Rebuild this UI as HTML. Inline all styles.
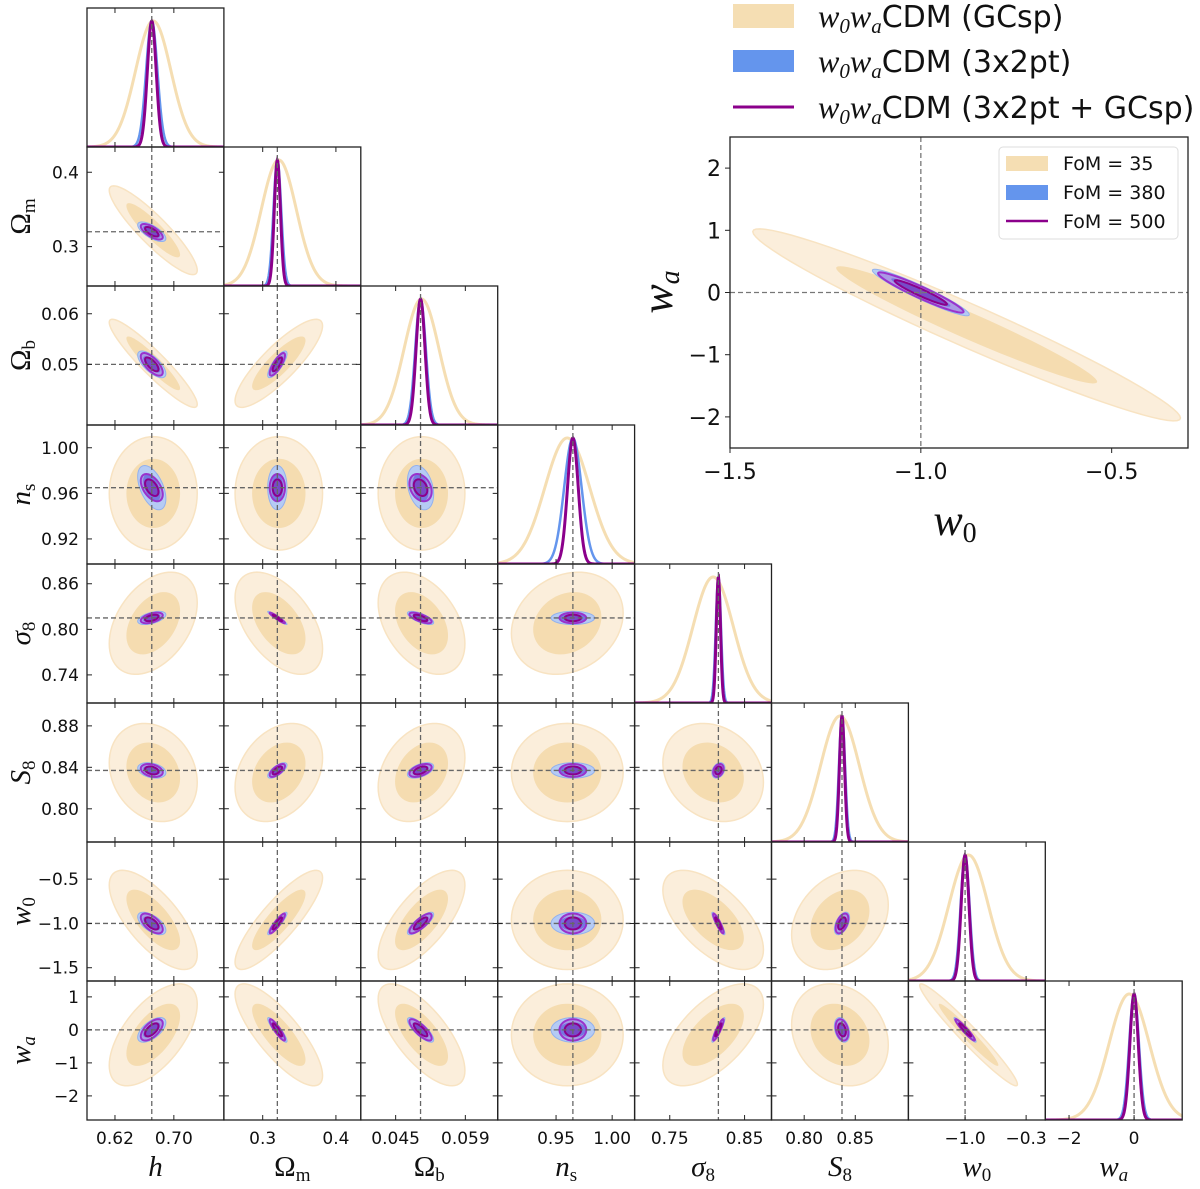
<!DOCTYPE html>
<html><head><meta charset="utf-8"><style>
html,body{margin:0;padding:0;background:#fff;}
svg{display:block;}
text{font-family:"DejaVu Sans","Liberation Sans",sans-serif;fill:#111;}
text.ttl, .ttl tspan{font-family:"Liberation Serif",serif;}
.serif{font-family:"Liberation Serif",serif;font-style:italic;}
</style></head><body>
<svg id="chart" width="1200" height="1189" viewBox="0 0 1200 1189" xmlns="http://www.w3.org/2000/svg">
<defs id="defs"></defs>
<g id="panels"></g>
<g id="legend-top">
  <rect x="733" y="4" width="61" height="24" fill="#F5DEB3"/>
  <text x="818" y="27" font-size="30"><tspan class="serif" font-size="32">w</tspan><tspan class="serif" font-size="21" dy="6">0</tspan><tspan class="serif" font-size="32" dy="-6">w</tspan><tspan class="serif" font-size="21" dy="6">a</tspan><tspan dy="-6">CDM (GCsp)</tspan></text>
  <rect x="733" y="50" width="61" height="22" fill="#6495ED"/>
  <text x="818" y="72" font-size="30"><tspan class="serif" font-size="32">w</tspan><tspan class="serif" font-size="21" dy="6">0</tspan><tspan class="serif" font-size="32" dy="-6">w</tspan><tspan class="serif" font-size="21" dy="6">a</tspan><tspan dy="-6">CDM (3x2pt)</tspan></text>
  <line x1="733" y1="107" x2="794" y2="107" stroke="#8B008B" stroke-width="3"/>
  <text x="818" y="118" font-size="30"><tspan class="serif" font-size="32">w</tspan><tspan class="serif" font-size="21" dy="6">0</tspan><tspan class="serif" font-size="32" dy="-6">w</tspan><tspan class="serif" font-size="21" dy="6">a</tspan><tspan dy="-6">CDM (3x2pt + GCsp)</tspan></text>
</g>
<g id="big"></g>
</svg>
<script>
const params=['h','Om','Ob','ns','s8','S8','w0','wa'];
const fid=[0.67,0.32,0.05,0.965,0.815,0.837,-1.0,0.0];
const lo=[0.582,0.247,0.038,0.898,0.703,0.768,-1.65,-2.73];
const hi=[0.768,0.434,0.0655,1.020,0.886,0.902,-0.08,1.48];
const meanG=[0.672,0.322,0.0502,0.960,0.808,0.835,-0.96,-0.15];
const sigG=[0.024,0.024,0.0035,0.02,0.027,0.019,0.225,0.62];
const sig3=[0.0077,0.0053,0.00106,0.0078,0.0035,0.003,0.051,0.15];
const sigC=[0.006,0.0042,0.0009,0.0048,0.0028,0.0025,0.045,0.13];
// pair correlations, order (0,1),(0,2)...(0,7),(1,2)...(6,7)
const rhoG=[-0.9,-0.93,0.0,0.4,-0.2,-0.7,0.6, 0.85,0.0,-0.5,0.3,0.85,-0.8, 0.0,-0.4,0.3,0.7,-0.7, 0.2,0.0,0.0,0.0, -0.2,-0.6,0.6, 0.3,-0.2, -0.97];
const rho3=[-0.7,-0.7,-0.5,0.5,-0.3,-0.6,0.6, 0.8,0.0,-0.95,0.7,0.9,-0.9, -0.3,-0.7,0.5,0.8,-0.8, 0.0,0.0,0.0,0.0, 0.3,-0.9,0.9, 0.5,-0.3, -0.95];
const yTicks=[[],[0.3,0.4],[0.05,0.06],[0.92,0.96,1.00],[0.74,0.80,0.86],[0.80,0.84,0.88],[-1.5,-1.0,-0.5],[-2,-1,0,1]];
const yTickLabels=[[],['0.3','0.4'],['0.05','0.06'],['0.92','0.96','1.00'],['0.74','0.80','0.86'],['0.80','0.84','0.88'],['\u22121.5','\u22121.0','\u22120.5'],['\u22122','\u22121','0','1']];
const xTicks=[[0.62,0.70],[0.3,0.4],[0.045,0.059],[0.95,1.00],[0.75,0.85],[0.80,0.85],[-1.0,-0.3],[-2,0]];
const xTickLabels=[['0.62','0.70'],['0.3','0.4'],['0.045','0.059'],['0.95','1.00'],['0.75','0.85'],['0.80','0.85'],['\u22121.0','\u22120.3'],['\u22122','0']];
const bigX=[-1.5,-0.30], bigY=[-2.5,2.5];
const bigMean=[-0.88,-0.52];
const bigXTicks=[-1.5,-1.0,-0.5], bigXTickLabels=['\u22121.5','\u22121.0','\u22120.5'];
const bigYTicks=[-2,-1,0,1,2], bigYTickLabels=['\u22122','\u22121','0','1','2'];
const fomLabels=['FoM = 35','FoM = 380','FoM = 500'];

const NS='http://www.w3.org/2000/svg';
function el(tag,attrs,parent){const e=document.createElementNS(NS,tag);for(const k in attrs)e.setAttribute(k,attrs[k]);parent.appendChild(e);return e;}
const X0=87,CW=136.9,Y0=8,RH=139;
function pairIdx(a,b){if(a>b){const t=a;a=b;b=t;}let k=0;for(let i=0;i<a;i++)k+=7-i;return k+(b-a-1);}
function ellPath(sx,sy,mx,my,rho,k,fx,fy){let d='';const r=Math.max(-0.995,Math.min(0.995,rho));const s=Math.sqrt(1-r*r);
 for(let t=0;t<=72;t++){const a=t/72*2*Math.PI;const x=mx+k*sx*Math.cos(a);const y=my+k*sy*(r*Math.cos(a)+s*Math.sin(a));d+=(t?'L':'M')+fx(x).toFixed(2)+','+fy(y).toFixed(2);}return d+'Z';}
const panels=document.getElementById('panels');
const defs=document.getElementById('defs');
const K1=1.52,K2=2.49;

function drawContours(g,j,i,fx,fy,rg,r3,name,mj,mi){
  let p=el('path',{d:ellPath(sigG[j],sigG[i],mj,mi,rg,K2,fx,fy),fill:'#FBEEDB',stroke:'#F8E3C2','stroke-width':1.5},g);
  
  p=el('path',{d:ellPath(sigG[j],sigG[i],mj,mi,rg,K1,fx,fy),fill:'#F5DCB0'},g);
  
  p=el('path',{d:ellPath(sig3[j],sig3[i],fid[j],fid[i],r3,K2,fx,fy),fill:'#B5CBF4',stroke:'#92B1EE','stroke-width':1},g);
  
  p=el('path',{d:ellPath(sig3[j],sig3[i],fid[j],fid[i],r3,K1,fx,fy),fill:'#6495ED'},g);
  
  p=el('path',{d:ellPath(sigC[j],sigC[i],fid[j],fid[i],r3,K2,fx,fy),fill:'rgba(150,60,200,0.35)',stroke:'#9932CC','stroke-width':2},g);
  
  p=el('path',{d:ellPath(sigC[j],sigC[i],fid[j],fid[i],r3,K1,fx,fy),fill:'rgba(120,40,180,0.55)',stroke:'#8B008B','stroke-width':2},g);
  
}

for(let i=0;i<8;i++){for(let j=0;j<=i;j++){
  const x0=X0+j*CW,y0=Y0+i*RH,w=CW,h=RH;
  const fx=v=>x0+(v-lo[j])/(hi[j]-lo[j])*w;
  const fy=v=>y0+h-(v-lo[i])/(hi[i]-lo[i])*h;
  const cid='c'+i+'_'+j;
  const cp=el('clipPath',{id:cid},defs);el('rect',{x:x0,y:y0,width:w,height:h},cp);
  const g=el('g',{'clip-path':'url(#'+cid+')'},panels);
  
  
  if(i===j){
    const sets=[[meanG[j],sigG[j],'#F5DEB3',3,'gcsp'],[fid[j],sig3[j],'#6495ED',2.5,'3x2pt'],[fid[j],sigC[j],'#8B008B',3,'combined']];
    sets.forEach(s=>{let d='';for(let t=0;t<=300;t++){const v=lo[j]+(hi[j]-lo[j])*t/300;const yy=y0+h-(h-13)*Math.exp(-0.5*Math.pow((v-s[0])/s[1],2));d+=(t?'L':'M')+fx(v).toFixed(2)+','+yy.toFixed(2);}
      const p=el('path',{d:d,fill:'none',stroke:s[2],'stroke-width':s[3]},g);
      });
    const l=el('line',{x1:fx(fid[j]),x2:fx(fid[j]),y1:y0,y2:y0+h,stroke:'#666','stroke-width':1.3,'stroke-dasharray':'5,3'},g);
    
  } else {
    const k=pairIdx(i,j);
    drawContours(g,j,i,fx,fy,rhoG[k],rho3[k],'contour-'+params[i]+'-'+params[j],meanG[j],meanG[i]);
    let l=el('line',{x1:fx(fid[j]),x2:fx(fid[j]),y1:y0,y2:y0+h,stroke:'#666','stroke-width':1.3,'stroke-dasharray':'5,3'},g);
    
    l=el('line',{x1:x0,x2:x0+w,y1:fy(fid[i]),y2:fy(fid[i]),stroke:'#666','stroke-width':1.3,'stroke-dasharray':'5,3'},g);
    
    yTicks[i].forEach(v=>{const yy=fy(v);el('line',{x1:x0,x2:x0+5,y1:yy,y2:yy,stroke:'#222','stroke-width':1},g);el('line',{x1:x0+w-5,x2:x0+w,y1:yy,y2:yy,stroke:'#222','stroke-width':1},g);});
  }
  xTicks[j].forEach(v=>{const xx=fx(v);el('line',{x1:xx,x2:xx,y1:y0,y2:y0+5,stroke:'#222','stroke-width':1},g);el('line',{x1:xx,x2:xx,y1:y0+h-5,y2:y0+h,stroke:'#222','stroke-width':1},g);});
  const fr=el('rect',{x:x0,y:y0,width:w,height:h,fill:'none',stroke:'#222','stroke-width':1.3},panels);
  
  if(j===0&&i>0){
    yTicks[i].forEach((v,n)=>{const t=el('text',{x:x0-8,y:fy(v)+6,'font-size':17,'text-anchor':'end'},panels);t.textContent=yTickLabels[i][n];
      });
  }
  if(i===7){
    xTicks[j].forEach((v,n)=>{const t=el('text',{x:fx(v),y:y0+h+24,'font-size':17,'text-anchor':'middle'},panels);t.textContent=xTickLabels[j][n];
      });
  }
}}

const labels=[['h',''],['\u03A9','m'],['\u03A9','b'],['n','s'],['\u03C3','8'],['S','8'],['w','0'],['w','a']];
labels.forEach((L,n)=>{
  const italic=(n===0||n===3||n===4||n===5||n===6||n===7);
  const t=el('text',{x:X0+(n+0.5)*CW,y:1176,'font-size':29,'text-anchor':'middle','class':'ttl'},panels);
  const a=el('tspan',{style:'font-style:'+(italic?'italic':'normal')},t);a.textContent=L[0];
  if(L[1]){const b=el('tspan',{'font-size':19,dy:5,style:'font-style:'+((n===7)?'italic':'normal')},t);b.textContent=L[1];}
  
  if(n>0){
    const cy=Y0+(n+0.5)*RH;
    const ty=el('text',{x:0,y:0,'font-size':29,'text-anchor':'middle','class':'ttl',transform:'translate(30,'+cy+') rotate(-90)'},panels);
    const a2=el('tspan',{style:'font-style:'+(italic?'italic':'normal')},ty);a2.textContent=L[0];
    const b2=el('tspan',{'font-size':19,dy:5,style:'font-style:'+((n===7)?'italic':'normal')},ty);b2.textContent=L[1];
    
  }
});

(function(){
  const big=document.getElementById('big');
  const bx0=730,bx1=1188,by0=137,by1=448;
  const fx=v=>bx0+(v-bigX[0])/(bigX[1]-bigX[0])*(bx1-bx0);
  const fy=v=>by1-(v-bigY[0])/(bigY[1]-bigY[0])*(by1-by0);
  const cp=el('clipPath',{id:'cbig'},defs);el('rect',{x:bx0,y:by0,width:bx1-bx0,height:by1-by0},cp);
  const g=el('g',{'clip-path':'url(#cbig)'},big);
  
  drawContours(g,6,7,fx,fy,rhoG[27],rho3[27],'big-contour',bigMean[0],bigMean[1]);
  let l=el('line',{x1:fx(fid[6]),x2:fx(fid[6]),y1:by0,y2:by1,stroke:'#777','stroke-width':1.3,'stroke-dasharray':'5,3'},g);
  
  l=el('line',{x1:bx0,x2:bx1,y1:fy(fid[7]),y2:fy(fid[7]),stroke:'#777','stroke-width':1.3,'stroke-dasharray':'5,3'},g);
  
  const fr=el('rect',{x:bx0,y:by0,width:bx1-bx0,height:by1-by0,fill:'none',stroke:'#222','stroke-width':1.3},big);
  
  bigXTicks.forEach((v,n)=>{el('line',{x1:fx(v),x2:fx(v),y1:by1,y2:by1+5,stroke:'#222'},big);
    const t=el('text',{x:fx(v),y:by1+31,'font-size':22,'text-anchor':'middle'},big);t.textContent=bigXTickLabels[n];
    });
  bigYTicks.forEach((v,n)=>{el('line',{x1:bx0-5,x2:bx0,y1:fy(v),y2:fy(v),stroke:'#222'},big);
    const t=el('text',{x:bx0-9,y:fy(v)+8,'font-size':22,'text-anchor':'end'},big);t.textContent=bigYTickLabels[n];
    });
  let t=el('text',{x:955,y:535,'font-size':44,'text-anchor':'middle','class':'ttl'},big);
  t.innerHTML='<tspan style="font-style:italic">w</tspan><tspan font-size="28" dy="7">0</tspan>';
  
  t=el('text',{x:0,y:0,'font-size':44,'text-anchor':'middle','class':'ttl',transform:'translate(672,292) rotate(-90)'},big);
  t.innerHTML='<tspan style="font-style:italic">w</tspan><tspan font-size="28" dy="7" style="font-style:italic">a</tspan>';
  
  const lg=el('g',{},big);
  
  el('rect',{x:999,y:147,width:179,height:92,rx:4,fill:'#fff',stroke:'#ddd','stroke-width':1},lg);
  el('rect',{x:1006,y:156,width:42,height:15,fill:'#F5DEB3'},lg);
  el('rect',{x:1006,y:185,width:42,height:15,fill:'#6495ED'},lg);
  el('line',{x1:1006,x2:1048,y1:221,y2:221,stroke:'#8B008B','stroke-width':2.5},lg);
  fomLabels.forEach((s,n)=>{const tt=el('text',{x:1063,y:170+n*29,'font-size':19},lg);tt.textContent=s;
    });
})();
</script>
</body></html>
